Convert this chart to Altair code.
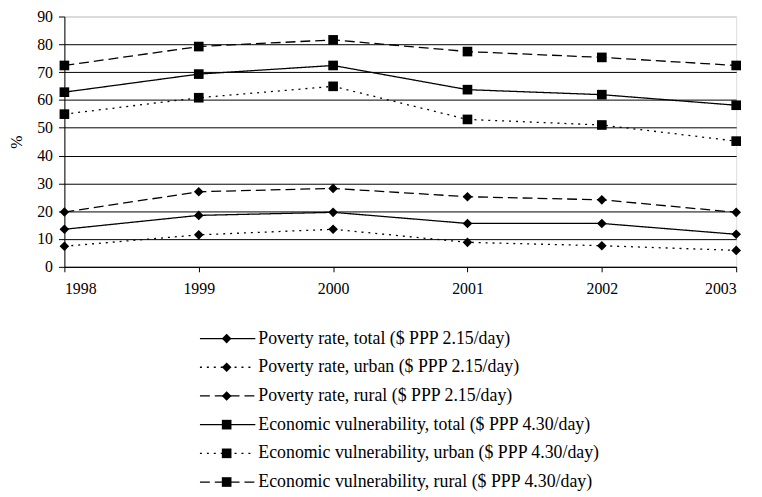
import altair as alt
import pandas as pd

years = [1998, 1999, 2000, 2001, 2002, 2003]
series_names = [
    "Poverty rate, total ($ PPP 2.15/day)",
    "Poverty rate, urban ($ PPP 2.15/day)",
    "Poverty rate, rural ($ PPP 2.15/day)",
    "Economic vulnerability, total ($ PPP 4.30/day)",
    "Economic vulnerability, urban ($ PPP 4.30/day)",
    "Economic vulnerability, rural ($ PPP 4.30/day)",
]
pov_total = [13.5, 18.5, 19.6, 15.6, 15.6, 11.7]
pov_urban = [7.4, 11.5, 13.5, 8.8, 7.6, 5.9]
pov_rural = [19.7, 27.0, 28.2, 25.2, 24.1, 19.6]
vul_total = [62.8, 69.3, 72.4, 63.7, 61.9, 58.1]
vul_urban = [54.9, 60.8, 64.9, 53.0, 51.0, 45.2]
vul_rural = [72.4, 79.2, 81.6, 77.4, 75.3, 72.4]
y_ticks = [0, 10, 20, 30, 40, 50, 60, 70, 80, 90]

all_values = [pov_total, pov_urban, pov_rural, vul_total, vul_urban, vul_rural]
rows = []
for name, vals in zip(series_names, all_values):
    for yr, v in zip(years, vals):
        rows.append({"year": yr, "value": v, "series": name})
df = pd.DataFrame(rows)
leg_df = pd.DataFrame({"series": series_names})

FONT = "Liberation Serif, Times New Roman, DejaVu Serif, serif"
dash_range = [[1, 0], [2, 5], [10, 5], [1, 0], [2, 5], [10, 5]]
shape_range = ["diamond", "diamond", "diamond", "square", "square", "square"]

dash_scale = alt.Scale(domain=series_names, range=dash_range)
shape_scale = alt.Scale(domain=series_names, range=shape_range)
size_scale = alt.Scale(domain=series_names, range=[95, 95, 95, 75, 75, 75])

x_enc = alt.X(
    "year:Q",
    scale=alt.Scale(domain=[1998, 2003], nice=False, zero=False),
    axis=alt.Axis(
        values=years, format="d", title=None, grid=False,
        tickSize=5, labelPadding=9, domainColor="black", tickColor="black",
        labelFont=FONT, labelFontSize=16, labelColor="black",
        labelOverlap=False,
    ),
)
y_enc = alt.Y(
    "value:Q", scale=alt.Scale(domain=[0, 90], nice=False),
    axis=alt.Axis(
        values=y_ticks, title="%", titleFont=FONT, titleFontSize=16,
        titleFontWeight="normal", titleColor="black", titlePadding=12,
        tickSize=6, labelPadding=6, domainColor="black", tickColor="black",
        labelFont=FONT, labelFontSize=16, labelColor="black",
        labelOverlap=False,
        gridColor={"condition": {"test": "datum.value === 90", "value": "#c8c8c8"}, "value": "black"},
        gridOpacity=1, gridWidth=1,
    ),
)

lines = alt.Chart().mark_line(color="black", strokeWidth=1.3).encode(
    strokeDash=alt.StrokeDash("series:N", scale=dash_scale, legend=None),
    detail="series:N",
)
points = alt.Chart().mark_point(filled=True, color="black", opacity=1).encode(
    shape=alt.Shape("series:N", scale=shape_scale, legend=None),
    size=alt.Size("series:N", scale=size_scale, legend=None),
)
main = alt.layer(lines, points, data=df).encode(x=x_enc, y=y_enc)

leg_y = alt.Y("series:N", sort=series_names, axis=None,
              scale=alt.Scale(type="point", range=[325.5, 470.5], padding=0))
leg_rule = alt.Chart().mark_rule(color="black", strokeWidth=1.3).encode(
    x=alt.value(137), x2=alt.value(193),
    strokeDash=alt.StrokeDash("series:N", scale=dash_scale, legend=None),
)
leg_point = alt.Chart().mark_point(filled=True, color="black", opacity=1).encode(
    x=alt.value(164),
    shape=alt.Shape("series:N", scale=shape_scale, legend=None),
    size=alt.Size("series:N", scale=size_scale, legend=None),
)
leg_text = alt.Chart().mark_text(
    align="left", baseline="middle", font=FONT, fontSize=18, color="black"
).encode(x=alt.value(196), text="series:N")
legend = alt.layer(leg_rule, leg_point, leg_text, data=leg_df).encode(y=leg_y)

chart = alt.layer(main, legend).resolve_scale(y="independent").properties(
    width=679, height=253,
    autosize=alt.AutoSizeParams(type="none"),
    padding={"left": 57, "top": 6, "right": 18, "bottom": 228},
).configure_view(stroke="transparent").configure(background="white")

chart.save("out.html", embed_options={"renderer": "svg", "actions": False})
